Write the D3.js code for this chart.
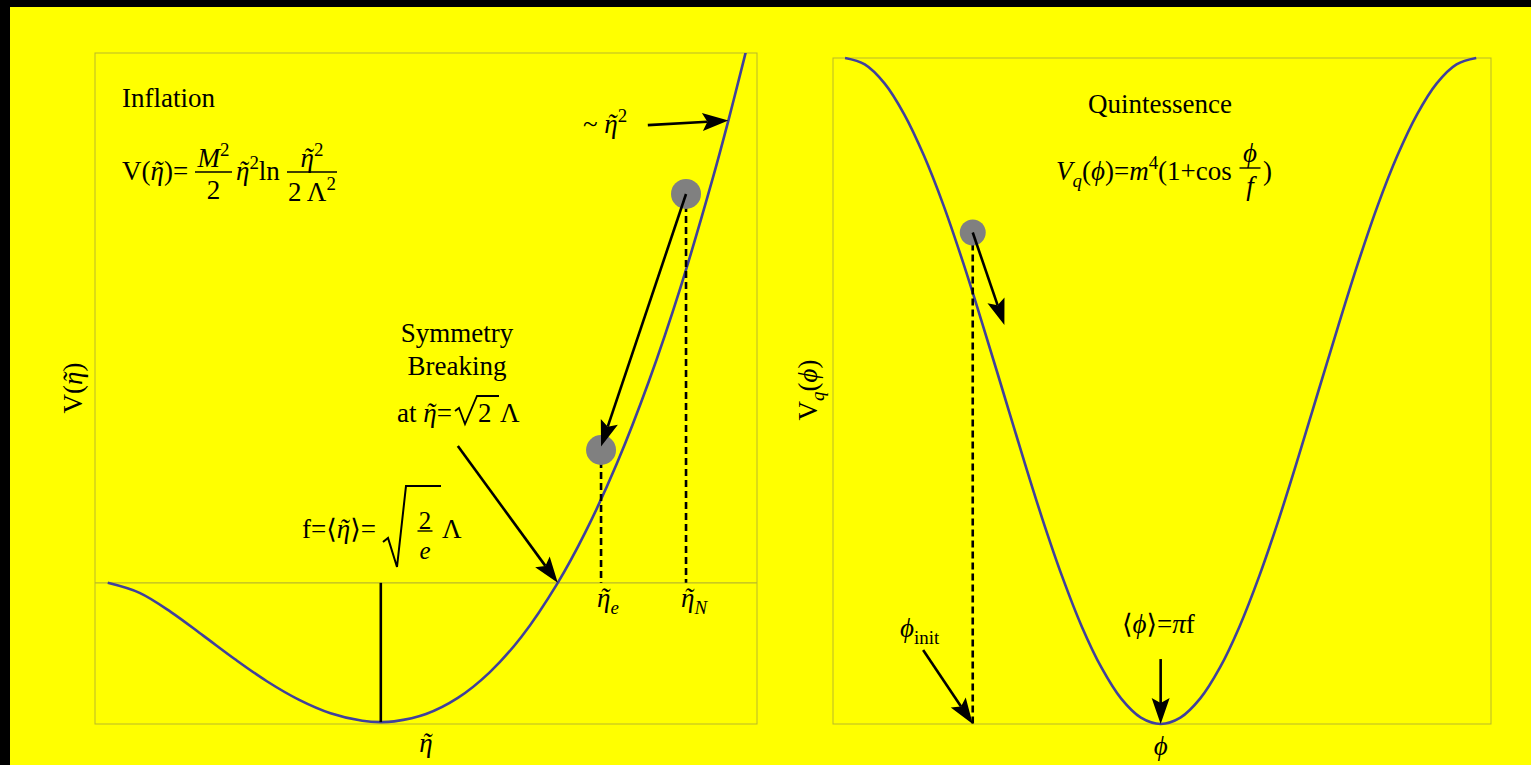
<!DOCTYPE html>
<html>
<head>
<meta charset="utf-8">
<script src="https://cdn.jsdelivr.net/npm/d3@7"></script>
<style>
  html, body { margin: 0; padding: 0; background: #000; overflow: hidden; }
  svg { display: block; }
</style>
</head>
<body>
<svg id="chart" width="1531" height="765"></svg>
<script>
// ---- Inflaton potential V(eta) = (M^2/2) eta^2 ln(eta^2 / 2 Lambda^2), sampled (Lambda = 1, M^2/2 = 1)
const etaValues = [0, 0.1, 0.2, 0.3, 0.4, 0.5, 0.6, 0.7, 0.8, 0.858, 0.9, 1.0, 1.1, 1.2, 1.3, 1.414,
                   1.5, 1.6, 1.7, 1.8, 1.9, 1.95, 2.0, 2.02];
const etaPotential = [0, -0.053, -0.156, -0.279, -0.404, -0.520, -0.617, -0.689, -0.729, -0.736, -0.732,
                      -0.693, -0.608, -0.473, -0.285, 0, 0.265, 0.632, 1.064, 1.563, 2.132, 2.443, 2.773, 2.909];
const etaDomain = [-0.04, 2.04];
const etaPotDomain = [-0.746, 2.80];

// rolling field positions (ball centres) and the marked values
const inflatonBallEta = [1.817, 1.550];
const inflatonBallV   = [2.055, 0.702];
const etaVev = 0.858;          // sqrt(2/e) Lambda
const etaBreak = 1.414;        // sqrt(2) Lambda

// ---- Quintessence potential V_q(phi) = m^4 (1 + cos(phi/f)), sampled (f = 1, m^4 = 1)
const phiValues = [0, 0.196, 0.393, 0.589, 0.785, 0.982, 1.178, 1.374, 1.571, 1.767, 1.963, 2.160, 2.356,
                   2.553, 2.749, 2.945, 3.142, 3.338, 3.534, 3.731, 3.927, 4.123, 4.320, 4.516, 4.712,
                   4.909, 5.105, 5.301, 5.498, 5.694, 5.890, 6.087, 6.283];
const phiPotential = [2.000, 1.981, 1.924, 1.831, 1.707, 1.556, 1.383, 1.195, 1.000, 0.805, 0.617, 0.444,
                      0.293, 0.169, 0.076, 0.019, 0.000, 0.019, 0.076, 0.169, 0.293, 0.444, 0.617, 0.805,
                      1.000, 1.195, 1.383, 1.556, 1.707, 1.831, 1.924, 1.981, 2.000];
const phiDomain = [-0.12, 6.43];
const phiPotDomain = [0, 2];
const quintBallPhi = 1.271;
const quintBallV = 1.476;
const phiVev = 3.1416;         // pi f

// ---- styling
const SERIF = "'Liberation Serif', 'Times New Roman', 'DejaVu Serif', serif";
const BG = "#ffff00";
const FRAME = "#b9b92a";
const CURVE = "#40409c";
const BALL = "#808080";
const S = 27;

const svg = d3.select("#chart");
svg.append("rect").attr("x", 10).attr("y", 7).attr("width", 1521).attr("height", 758).attr("fill", BG);

const defs = svg.append("defs");

// ---- helpers
// parts: [text, flags]; flags: i = italic, ^ = superscript, _ = subscript, t = tilde accent
function rich(parent, x, y, parts, size, anchor) {
  const t = parent.append("text")
    .attr("x", x).attr("y", y)
    .attr("font-size", size)
    .attr("font-family", SERIF)
    .attr("text-anchor", anchor || "start")
    .attr("fill", "#000");
  let shift = 0, carry = 0;
  parts.forEach(p => {
    const s = p[0], f = p[1] || "";
    const ts = t.append("tspan").text(s);
    let target = 0, fs = size;
    if (f.includes("^")) { target = -0.42 * size; fs = 0.7 * size; }
    if (f.includes("_")) { target = 0.26 * size; fs = 0.7 * size; }
    if (target !== shift) { ts.attr("dy", target - shift); shift = target; }
    if (carry) { ts.attr("dx", carry); carry = 0; }
    if (fs !== size) ts.attr("font-size", fs);
    if (f.includes("i")) ts.attr("font-style", "italic");
    if (f.includes("t")) {
      t.append("tspan").text("\u02DC")
        .attr("dx", -0.40 * fs)
        .attr("font-size", fs)
        .attr("font-style", "italic");
      carry = 0.40 * fs - 0.333 * fs;
    }
  });
  return t;
}

function fraction(parent, cx, barY, barW, num, den, size, numOff, denOff) {
  parent.append("line")
    .attr("x1", cx - barW / 2).attr("x2", cx + barW / 2)
    .attr("y1", barY).attr("y2", barY)
    .attr("stroke", "#000").attr("stroke-width", 1.4);
  rich(parent, cx, barY - numOff, num, size, "middle");
  rich(parent, cx, barY + denOff, den, size, "middle");
}

function arrow(parent, x1, y1, x2, y2) {
  const ang = Math.atan2(y2 - y1, x2 - x1);
  const L = 26, W = 9, N = 5;
  const ca = Math.cos(ang), sa = Math.sin(ang);
  const bx = x2 - L * ca, by = y2 - L * sa;
  parent.append("line")
    .attr("x1", x1).attr("y1", y1)
    .attr("x2", x2 - (L - N) * ca).attr("y2", y2 - (L - N) * sa)
    .attr("stroke", "#000").attr("stroke-width", 2.6);
  const pts = [
    [x2, y2],
    [bx - W * sa, by + W * ca],
    [x2 - (L - N) * ca, y2 - (L - N) * sa],
    [bx + W * sa, by - W * ca]
  ];
  parent.append("path")
    .attr("d", "M" + pts.map(p => p.join(",")).join("L") + "Z")
    .attr("fill", "#000");
}

const ETA = "\u03B7";
const PHI = "\u03D5";

// ================= Left panel: inflation =================
const L = { x0: 95, x1: 757, y0: 53, y1: 724 };
const xe = d3.scaleLinear().domain(etaDomain).range([L.x0, L.x1]);
const ye = d3.scaleLinear().domain(etaPotDomain).range([L.y1, L.y0]);

const gl = svg.append("g");
defs.append("clipPath").attr("id", "clipL")
  .append("rect").attr("x", L.x0).attr("y", L.y0).attr("width", L.x1 - L.x0).attr("height", L.y1 - L.y0);

gl.append("rect").attr("x", L.x0).attr("y", L.y0).attr("width", L.x1 - L.x0).attr("height", L.y1 - L.y0)
  .attr("fill", "none").attr("stroke", FRAME).attr("stroke-width", 1);
// V = 0 axis
gl.append("line").attr("x1", L.x0).attr("x2", L.x1).attr("y1", ye(0)).attr("y2", ye(0))
  .attr("stroke", FRAME).attr("stroke-width", 1.2);

const etaPts = etaValues.map((e, i) => [e, etaPotential[i]]);
gl.append("path")
  .datum(etaPts)
  .attr("clip-path", "url(#clipL)")
  .attr("fill", "none").attr("stroke", CURVE).attr("stroke-width", 2.6)
  .attr("d", d3.line().x(d => xe(d[0])).y(d => ye(d[1])).curve(d3.curveCatmullRom.alpha(0.5)));

// vev marker
gl.append("line").attr("x1", xe(etaVev)).attr("x2", xe(etaVev))
  .attr("y1", ye(0)).attr("y2", ye(-0.736))
  .attr("stroke", "#000").attr("stroke-width", 2.6);

// dashed drop lines from the field positions
inflatonBallEta.forEach((e, i) => {
  gl.append("line").attr("x1", xe(e)).attr("x2", xe(e))
    .attr("y1", ye(inflatonBallV[i])).attr("y2", ye(0))
    .attr("stroke", "#000").attr("stroke-width", 2.6).attr("stroke-dasharray", "7,4");
});
inflatonBallEta.forEach((e, i) => {
  gl.append("circle").attr("cx", xe(e)).attr("cy", ye(inflatonBallV[i])).attr("r", 15)
    .attr("fill", BALL);
});
// rolling arrow
arrow(gl, xe(inflatonBallEta[0]), ye(inflatonBallV[0]), xe(inflatonBallEta[1]), ye(0.72));
// ~eta^2 arrow
arrow(gl, xe(1.697), ye(2.419), xe(1.95), ye(2.443));
// symmetry breaking arrow
arrow(gl, xe(1.100), ye(0.723), xe(etaBreak), ye(0));

// texts
rich(gl, 122, 107, [["Inflation"]], S);
rich(gl, 122, 180, [["V("], [ETA, "it"], [")="]], S);
fraction(gl, 213.5, 172, 37, [["M", "i"], ["2", "^"]], [["2"]], S, 5, 27);
rich(gl, 236, 180, [[ETA, "it"], ["2", "^"], ["ln"]], S);
fraction(gl, 312, 172, 50, [[ETA, "it"], ["2", "^"]], [["2 \u039B"], ["2", "^"]], S, 5, 29);

rich(gl, 583, 133, [["~ "], [ETA, "it"], ["2", "^"]], S);

rich(gl, 457, 342, [["Symmetry"]], S, "middle");
rich(gl, 457, 375, [["Breaking"]], S, "middle");
rich(gl, 397, 422, [["at "], [ETA, "it"], ["="]], S);
// sqrt(2) radical
gl.append("path").attr("d", "M455,411 L459,408 L465,424 L477,396 L499,396")
  .attr("fill", "none").attr("stroke", "#000").attr("stroke-width", 1.8).attr("stroke-linejoin", "miter");
rich(gl, 478, 422, [["2"]], S);
rich(gl, 500, 422, [["\u039B"]], S);

// f = <eta> = sqrt(2/e) Lambda
rich(gl, 302, 538, [["f=\u27E8"], [ETA, "it"], ["\u27E9="]], S);
gl.append("path").attr("d", "M383,542 L388,538 L397,567 L406,486 L441,486")
  .attr("fill", "none").attr("stroke", "#000").attr("stroke-width", 2).attr("stroke-linejoin", "miter");
fraction(gl, 425, 531, 15, [["2"]], [["e", "i"]], 25, 2, 28);
rich(gl, 442, 538, [["\u039B"]], S);

// field labels under the dashed lines
rich(gl, xe(inflatonBallEta[1]) - 4, 607, [[ETA, "it"], ["e", "_i"]], S);
rich(gl, xe(inflatonBallEta[0]) - 5, 607, [[ETA, "it"], ["N", "_i"]], S);

// axis labels
rich(gl, 426, 752, [[ETA, "it"]], S, "middle");
rich(gl, 0, 0, [["V("], [ETA, "it"], [")"]], S, "middle")
  .attr("transform", "translate(82,388) rotate(-90)");

// ================= Right panel: quintessence =================
const R = { x0: 833, x1: 1491, y0: 58, y1: 724 };
const xp = d3.scaleLinear().domain(phiDomain).range([R.x0, R.x1]);
const yp = d3.scaleLinear().domain(phiPotDomain).range([R.y1, R.y0]);

const gr = svg.append("g");
gr.append("rect").attr("x", R.x0).attr("y", R.y0).attr("width", R.x1 - R.x0).attr("height", R.y1 - R.y0)
  .attr("fill", "none").attr("stroke", FRAME).attr("stroke-width", 1);

const phiPts = phiValues.map((p, i) => [p, phiPotential[i]]);
gr.append("path")
  .datum(phiPts)
  .attr("fill", "none").attr("stroke", CURVE).attr("stroke-width", 2.6)
  .attr("d", d3.line().x(d => xp(d[0])).y(d => yp(d[1])).curve(d3.curveCatmullRom.alpha(0.5)));

gr.append("line").attr("x1", xp(quintBallPhi)).attr("x2", xp(quintBallPhi))
  .attr("y1", yp(quintBallV)).attr("y2", yp(0))
  .attr("stroke", "#000").attr("stroke-width", 2.6).attr("stroke-dasharray", "7,4");
gr.append("circle").attr("cx", xp(quintBallPhi)).attr("cy", yp(quintBallV)).attr("r", 13).attr("fill", BALL);
arrow(gr, xp(quintBallPhi), yp(quintBallV), xp(1.586), yp(1.198));
arrow(gr, xp(0.777), yp(0.222), xp(quintBallPhi), yp(0));
arrow(gr, xp(phiVev), yp(0.195), xp(phiVev), yp(0));

rich(gr, 1160, 113, [["Quintessence"]], S, "middle");
rich(gr, 1056, 180, [["V", "i"], ["q", "_i"], ["("], [PHI, "i"], [")="], ["m", "i"], ["4", "^"], ["(1+cos"]], S);
fraction(gr, 1250, 168, 21, [[PHI, "i"]], [["f", "i"]], S, 6, 27);
rich(gr, 1263, 180, [[")"]], S);

rich(gr, 900, 637, [[PHI, "i"], ["init", "_"]], S);
rich(gr, 1122, 633, [["\u27E8"], [PHI, "i"], ["\u27E9="], ["\u03C0", "i"], ["f"]], S);

rich(gr, xp(phiVev), 755, [[PHI, "i"]], S, "middle");
rich(gr, 0, 0, [["V"], ["q", "_i"], ["("], [PHI, "i"], [")"]], S, "middle")
  .attr("transform", "translate(817,390) rotate(-90)");
</script>
</body>
</html>
